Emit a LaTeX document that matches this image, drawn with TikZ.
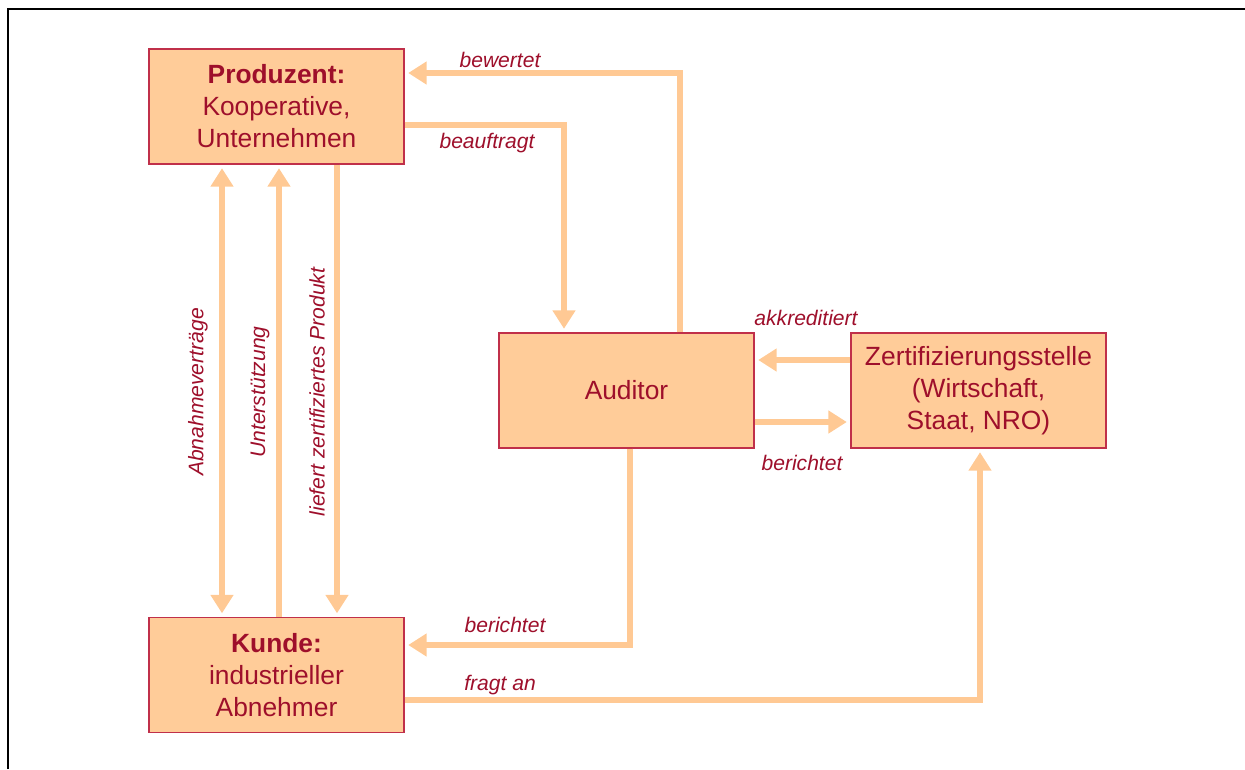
\documentclass[tikz,border=0pt]{standalone}
\usepackage{fontspec}
\setmainfont{Liberation Sans}
\usetikzlibrary{arrows.meta}
\definecolor{boxfill}{HTML}{FFCC99}
\definecolor{boxline}{HTML}{C0304A}
\definecolor{txt}{HTML}{9E0F2B}
\definecolor{arr}{HTML}{FFC994}
\begin{document}
\begin{tikzpicture}[x=0.02cm,y=-0.02cm,
  box/.style={draw=boxline, line width=0.8pt, fill=boxfill, text=txt,
    minimum width=5.1cm, minimum height=2.3cm, align=center, inner sep=0pt,
    font=\fontsize{15}{18.2}\selectfont},
  conn/.style={draw=arr, line width=3.4pt,
    -{Triangle[width=12.5pt,length=10.5pt]}, shorten >=2pt},
  both/.style={draw=arr, line width=3.4pt,
    {Triangle[width=12.5pt,length=10.5pt]}-{Triangle[width=12.5pt,length=10.5pt]}, shorten >=2pt, shorten <=2pt},
  plain/.style={draw=arr, line width=3.4pt},
  lab/.style={text=txt, font=\fontsize{12}{14}\selectfont\itshape, inner sep=0pt}
]
\useasboundingbox (0,0) rectangle (1245,769);
\draw[black, line width=1.1pt] (8,769) -- (8,9) -- (1245,9);

\node[box] (prod) at (276.5,106.5) {\textbf{Produzent:}\\Kooperative,\\Unternehmen};
\node[box] (kunde) at (276.5,675) {\textbf{Kunde:}\\industrieller\\Abnehmer};
\node[box] (aud) at (626.5,390.5) {Auditor};
\node[box] (zert) at (978.5,390.5) {Zertifizierungsstelle\\(Wirtschaft,\\Staat, NRO)};

% bewertet
\draw[conn] (aud.north -| 680,0) |- (prod.east |- 0,73);
\node[lab] (l1) at (500,60) {bewertet};
% beauftragt
\draw[conn] (prod.east |- 0,125) -| (aud.north -| 564,0);
\node[lab] (l2) at (487,143) {beauftragt};
% vertical arrows
\draw[both] (prod.south -| 222,0) -- (kunde.north -| 222,0);
\draw[conn] (kunde.north -| 279,0) -- (prod.south -| 279,0);
\draw[conn] (prod.south -| 337,0) -- (kunde.north -| 337,0);
\node[lab, rotate=90] (l3) at (198,392) {Abnahmeverträge};
\node[lab, rotate=90] (l4) at (260,392) {Unterstützung};
\node[lab, rotate=90] (l5) at (317,392) {liefert zertifiziertes Produkt};
% akkreditiert
\draw[conn] (zert.west |- 0,360) -- (aud.east |- 0,360);
\node[lab] (l6) at (806,318) {akkreditiert};
% berichtet to zert
\draw[conn] (aud.east |- 0,422) -- (zert.west |- 0,422);
\node[lab] (l7) at (802,463) {berichtet};
% berichtet to kunde
\draw[conn] (aud.south -| 630,0) |- (kunde.east |- 0,645);
\node[lab] (l8) at (505,625) {berichtet};
% fragt an
\draw[conn] (kunde.east |- 0,700) -| (zert.south -| 980,0);
\node[lab] (l9) at (500,685) {fragt an};
\end{tikzpicture}
\end{document}
